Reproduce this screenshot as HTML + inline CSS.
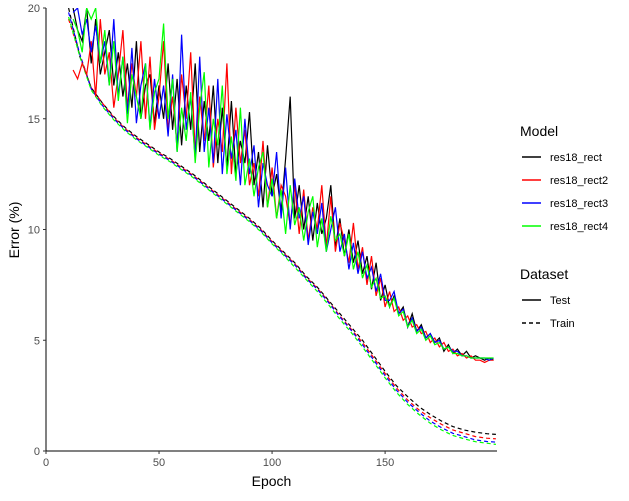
<!DOCTYPE html>
<html><head><meta charset="utf-8"><style>
body{margin:0;background:#fff;font-family:"Liberation Sans",sans-serif;}
svg text{font-family:"Liberation Sans",sans-serif;}
</style></head><body>
<svg id="chart" width="629" height="496" xmlns="http://www.w3.org/2000/svg">
<g id="plot"></g>
<g id="axes"></g>
<g id="legend"></g>
</svg>
<script>
const testEpochsStart = 12, testEpochsStep = 2;
const testRect = [20,19,18.5,20,17.5,19.5,17,18,19,16.5, 18,16,17.5,15.5,18.5,15,16.5,17,14.8,16.5, 15,17.5,14.5,16.8,13.8,16.5,14.5,17.5,13.5,15.8, 14,16.5,13,15.5,12.8,15.8,12.5,14,13,15.3, 12,13.5,11,13.8,11.5,12.5,10.8,13.2,16,10.5, 12,10,11.5,9.5,11.2,9.8,10.5,12,9.2,10.5, 8.8,10,8.5,9.5,8,8.8,7.3,8.5,6.8,7.5, 6.5,7,6.2,6.5,5.6,6.2,5.4,5.7,5.1,5.3, 4.9,5.1,4.5,4.8,4.4,4.6,4.3,4.5,4.2,4.3, 4.2,4.1,4.2,4.1];
const testRect2 = [17.2,16.8,17.5,17,18.5,16,19.5,17,18,15.5, 17,19,15.5,17.5,16,18.5,15,17.8,14.5,16, 18.5,14.5,16,13.8,17,15,18,13.5,16,14, 16.5,12.8,15,13.5,17.5,12.5,15.5,13,14.5,12, 13,11.5,14,11,12.8,10.5,12,11.5,10.2,12, 9.8,11.8,9.5,11,10,12,9.2,11.5,9,10.3, 9.5,8.5,10.3,8.2,9.2,7.5,8.8,7,7.8,6.5, 7.2,6.3,6.5,5.9,6.1,5.6,5.7,5.3,5.4,4.9, 5.1,4.7,4.9,4.5,4.6,4.3,4.4,4.2,4.3,4.1, 4.1,4.0,4.1,4.1];
const testRect3 = [19.8,20,18.8,19.5,18,19.2,17.5,18.5,16.5,19.5, 16,17.8,15.2,18.2,14.8,16.5,17.5,14.6,16.8,15, 16.5,14.2,17,13.5,18.8,14.5,16,13.2,17.8,13.5, 15.5,13,16.8,12.5,15.2,13.2,14.5,12,15,12.5, 13.8,11,13,12,11.5,13.5,10.5,12.8,10,12.3, 10.5,11.5,9.3,10.8,9.8,11.2,9,10,11,9, 9.8,8.2,9.4,8,9,7.8,8.3,7.2,8,6.8, 6.8,7.2,6.2,6.4,5.6,6,5.4,5.6,5.1,5.3, 4.9,5,4.6,4.7,4.5,4.5,4.3,4.3,4.2,4.2, 4.2,4.2,4.1,4.2];
const testRect4 = [19.5,19,18,20,19.5,20,17.5,19,16.5,18.5, 15.8,17.8,14.8,17,16,15,17.5,14.5,16.2,16.8, 19.3,15,16.8,13.5,15.5,14,16.2,13,15.5,17.1, 12.8,15,13.8,16.5,12.5,14.2,12.2,15.5,12,13.2, 11.5,12.8,13.5,11,12.3,10.5,11.8,9.8,12,10.2, 11,9.5,10.8,11.5,9.2,10.5,9,10.6,9.5,9.8, 8.8,9.8,8.2,9,7.8,8.4,7.4,7.8,6.9,7, 6.5,6.9,6.1,6.3,5.6,5.9,5.3,5.5,5.0,5.2, 4.8,4.9,4.6,4.7,4.4,4.4,4.3,4.3,4.2,4.2, 4.2,4.2,4.2,4.2];
const trainEpochs = [10,15,20,25,30,35,40,45,50,55,60,65,70,75,80,85,90,95,100,105,110,115,120,125,130,135,140,145,150,155,160,165,170,175,180,185,190,195,199];
const trainRect = [20,17.8,16.4,15.7,15.1,14.6,14.2,13.85,13.5,13.2,12.85,12.5,12.1,11.7,11.3,10.9,10.5,10.05,9.5,9.0,8.5,7.9,7.4,6.8,6.2,5.6,5.0,4.3,3.6,2.95,2.45,2.0,1.65,1.35,1.1,0.95,0.85,0.78,0.75];
const trainRect2 = [19.5,17.9,16.4,15.7,15.05,14.55,14.15,13.8,13.45,13.15,12.8,12.45,12.05,11.65,11.25,10.85,10.45,10,9.45,8.95,8.45,7.85,7.35,6.75,6.1,5.5,4.9,4.2,3.5,2.85,2.3,1.85,1.5,1.2,0.95,0.8,0.65,0.58,0.55];
const trainRect3 = [19.8,17.9,16.35,15.6,15,14.5,14.1,13.75,13.4,13.1,12.75,12.4,12,11.6,11.2,10.8,10.4,9.95,9.4,8.9,8.4,7.8,7.3,6.7,6.05,5.45,4.8,4.1,3.4,2.75,2.2,1.75,1.35,1.05,0.8,0.65,0.5,0.43,0.4];
const trainRect4 = [19.6,17.8,16.3,15.55,14.95,14.45,14.05,13.7,13.35,13.05,12.7,12.35,11.95,11.55,11.15,10.75,10.35,9.9,9.35,8.85,8.3,7.75,7.2,6.6,5.95,5.35,4.7,4.0,3.3,2.65,2.1,1.65,1.25,0.95,0.7,0.55,0.42,0.35,0.3];
const xTicks = [0,50,100,150];
const yTicks = [0,5,10,15,20];
const seriesNames = ["res18_rect","res18_rect2","res18_rect3","res18_rect4"];
const seriesColors = ["#000000","#ff0000","#0000ff","#00ff00"];

const NS="http://www.w3.org/2000/svg";
const X0=46,X1=497,Y0=451,Y1=8;
const xs=e=>X0+(e-0)*(X1-X0)/199.5;
const ys=v=>Y0-v*(Y0-Y1)/20;
function mk(tag,parent,attrs){const el=document.createElementNS(NS,tag);for(const k in attrs)el.setAttribute(k,attrs[k]);parent.appendChild(el);return el;}
const plot=document.getElementById('plot'),axes=document.getElementById('axes'),legend=document.getElementById('legend');
const cp=mk('clipPath',document.getElementById('chart'),{id:'cp'});
mk('rect',cp,{x:X0,y:Y1,width:X1-X0,height:Y0-Y1});
plot.setAttribute('clip-path','url(#cp)');
const trains=[trainRect,trainRect2,trainRect3,trainRect4];
const tests=[testRect,testRect2,testRect3,testRect4];
trains.forEach((arr,i)=>{
  const d=arr.map((v,j)=>(j?'L':'M')+xs(trainEpochs[j]).toFixed(1)+','+ys(v).toFixed(1)).join('');
  const p=mk('path',plot,{d:d,fill:'none',stroke:seriesColors[i],'stroke-width':1.2,'stroke-dasharray':'4,3'});
  
  
});
tests.forEach((arr,i)=>{
  const d=arr.map((v,j)=>(j?'L':'M')+xs(testEpochsStart+j*testEpochsStep).toFixed(1)+','+ys(v).toFixed(1)).join('');
  const p=mk('path',plot,{d:d,fill:'none',stroke:seriesColors[i],'stroke-width':1.2});
  
  
});
mk('line',axes,{x1:X0,y1:Y1,x2:X0,y2:Y0,stroke:'#000','stroke-width':1});
mk('line',axes,{x1:X0,y1:Y0,x2:X1,y2:Y0,stroke:'#000','stroke-width':1});
xTicks.forEach(t=>{
  mk('line',axes,{x1:xs(t),y1:Y0,x2:xs(t),y2:Y0+3,stroke:'#333'});
  const tx=mk('text',axes,{x:xs(t),y:Y0+15,'text-anchor':'middle','font-size':11,fill:'#4d4d4d'});
  tx.textContent=t;
  
  
});
yTicks.forEach(t=>{
  mk('line',axes,{x1:X0-3,y1:ys(t),x2:X0,y2:ys(t),stroke:'#333'});
  const tx=mk('text',axes,{x:X0-6,y:ys(t)+4,'text-anchor':'end','font-size':11,fill:'#4d4d4d'});
  tx.textContent=t;
  
  
});
const xt=mk('text',axes,{x:(X0+X1)/2,y:486,'text-anchor':'middle','font-size':14});
xt.textContent='Epoch';


const yt=mk('text',axes,{x:0,y:0,'text-anchor':'middle','font-size':14,transform:'translate(19,230) rotate(-90)'});
yt.textContent='Error (%)';


const mt=mk('text',legend,{x:520,y:136,'font-size':14});
mt.textContent='Model';


seriesNames.forEach((n,i)=>{
  const y=157+i*23;
  const g=mk('g',legend,{});
  
  
  mk('line',g,{x1:522,y1:y,x2:541,y2:y,stroke:seriesColors[i],'stroke-width':1.4});
  const t=mk('text',g,{x:550,y:y+4,'font-size':11});
  t.textContent=n;
});
const dt=mk('text',legend,{x:520,y:279,'font-size':14});
dt.textContent='Dataset';


[['Test',null],['Train','4,3']].forEach((e,i)=>{
  const y=300+i*23;
  const g=mk('g',legend,{});
  
  
  const l=mk('line',g,{x1:522,y1:y,x2:541,y2:y,stroke:'#000','stroke-width':1.4});
  if(e[1])l.setAttribute('stroke-dasharray',e[1]);
  const t=mk('text',g,{x:550,y:y+4,'font-size':11});
  t.textContent=e[0];
});
</script>
</body></html>
